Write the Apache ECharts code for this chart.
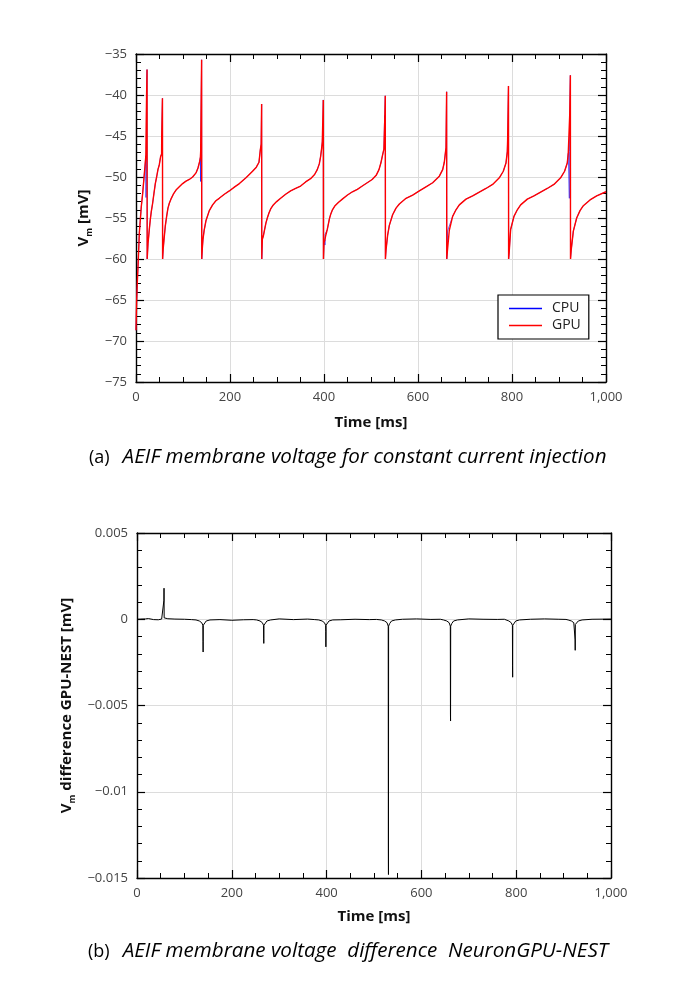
<!DOCTYPE html>
<html>
<head>
<meta charset="utf-8">
<script src="https://cdn.jsdelivr.net/npm/echarts@6/dist/echarts.min.js"></script>
<style>
html, body { margin: 0; padding: 0; background: #fff; }
#main { width: 700px; height: 1000px; }
</style>
</head>
<body>
<div id="main"></div>
<script>
// (a) membrane voltage, GPU trace
var gpuTime = [
    0, 1.4, 2.8, 4.3, 5.7, 7.1, 9.2, 11.3, 14.2, 17, 19.1, 21, 22.5, 23.5, 23.8,
    25.3, 25.6, 28.3, 30.4, 32.6, 35.4, 38.2, 41.1, 43.9, 46.7, 49.6, 52.4, 54.5, 54.7, 56.3, 56.6,
    57.6, 57.8, 59.5, 62.3, 65.2, 68, 70.9, 75.1, 79.4, 85.1, 92.1, 99.2, 106.4, 113.4, 120.5, 127.7, 131.9, 135.5, 137.0, 137.6, 138.5, 139.6, 139.9,
    140.8, 141.1, 142.5, 145, 149, 156, 163, 170, 177, 188, 198.5, 210, 220, 234, 248, 256, 261.7, 264.5, 266.3, 267.3, 267.6,
    268.5, 268.8, 270.9, 273.7, 276.5, 279.4, 282.9, 286.5, 292.1, 299.2, 307.7, 318.4, 329, 339.6, 350.3, 360.9, 371.5, 380, 385.7, 390, 392.8, 395, 396.4, 397.6, 398.5, 398.8,
    399.7, 400, 401.8, 403.4, 407, 409.8, 411.5, 414.5, 418, 423.5, 430.5, 439, 450, 460.5, 471, 481.5, 492, 502.5, 511, 517, 521, 524.7, 527.5, 529.2, 530.4, 530.7,
    531.6, 532, 535.4, 539, 546, 553.2, 560.3, 574.5, 588.7, 602.8, 617, 631.2, 645.4, 652.5, 656, 658.2, 659.6, 660.9, 661.2,
    662.0, 662.3, 666.6, 673.7, 680.8, 687.9, 702.1, 716.3, 730.4, 744.6, 758.8, 773, 781.5, 787.2, 790, 790.7, 792.5, 792.8,
    793.6, 794, 797.1, 804.2, 811.3, 818.4, 832.6, 846.7, 860.9, 875, 889.2, 903.4, 911.9, 917.6, 919.7, 921.5, 922.8, 924.2, 924.5,
    925.5, 926, 930.5, 937.6, 944.7, 951.8, 966, 980.2, 1000
];
var gpuVm = [
    -68.7, -65.0, -62.9, -60.9, -58.9, -56.8, -55.2, -53.6, -52.0, -50.1, -48.7, -47.4, -40.0, -36.9, -60,
    -60, -58.1, -56.4, -55.2, -54.2, -53.2, -52.0, -50.8, -50.0, -49.1, -48.5, -47.5, -47.2, -45.0, -40.4, -60,
    -60, -58.8, -57.7, -56.0, -54.8, -53.8, -53.2, -52.6, -52.1, -51.6, -51.2, -50.8, -50.5, -50.3, -50.0, -49.5, -48.9, -48.1, -47.6, -46.9, -41.6, -35.7, -60,
    -60, -58.7, -57.6, -56.5, -55.3, -54.1, -53.4, -52.9, -52.6, -52.1, -51.7, -51.2, -50.8, -50.1, -49.3, -48.8, -48.2, -46.7, -46.0, -41.1, -60,
    -60, -57.6, -57.2, -56.4, -55.6, -55.0, -54.4, -53.9, -53.4, -53.0, -52.6, -52.1, -51.7, -51.4, -51.1, -50.6, -50.2, -49.7, -49.1, -48.4, -47.5, -46.5, -45.7, -45.6, -40.6, -60,
    -60, -58.0, -57.7, -57.2, -56.4, -55.6, -55.1, -54.5, -54.0, -53.5, -53.1, -52.7, -52.2, -51.8, -51.5, -51.1, -50.7, -50.3, -49.8, -49.1, -48.3, -47.3, -46.6, -43.1, -40.1, -60,
    -60, -58.9, -57.1, -55.9, -54.6, -53.8, -53.3, -52.6, -52.2, -51.7, -51.2, -50.7, -49.9, -49.1, -48.2, -47.1, -46.4, -39.6, -60,
    -60, -59.2, -56.5, -54.8, -54.0, -53.4, -52.7, -52.3, -51.85, -51.4, -50.9, -50.1, -49.3, -48.3, -46.9, -45.5, -38.9, -60,
    -60, -59.2, -56.4, -54.8, -54.0, -53.4, -52.7, -52.3, -51.85, -51.4, -50.9, -50.1, -49.3, -48.3, -47.1, -46.9, -42.4, -37.6, -60,
    -60, -58.9, -56.6, -55.0, -54.1, -53.5, -52.8, -52.3, -51.8
];
// CPU samples that show where the blue trace leaves the red one
var cpuExtraTime = [21.2, 54.8, 137.3, 396.8, 402.0, 402.2, 529.0, 662.6, 662.8, 790.8, 922.0, 922.3];
var cpuExtraVm   = [-52.5, -44.3, -50.55, -45.2, -58.3, -57.0, -42.5, -58.6, -56.6, -45.2, -52.6, -46.9];

// (b) GPU - NEST difference [mV]
var diffTime = [
    0, 8, 18, 24, 26, 28, 35, 45, 52, 55.5, 56.8, 57.0, 57.3, 60, 65, 80, 100, 115,
    124.5, 131.5, 136.5, 139.0, 139.3, 139.5, 139.8, 142, 146, 154, 175, 200, 225, 245,
    252.5, 259.5, 264.5, 267.0, 267.3, 267.5, 267.8, 270, 274, 282, 300, 330, 360, 375,
    383.5, 390.5, 395.5, 398.0, 398.3, 398.5, 398.8, 401, 405, 413, 430, 460, 490, 505,
    515.5, 522.5, 527.5, 530.0, 530.3, 530.5, 530.8, 533, 537, 545, 560, 590, 620, 640,
    646.5, 653.5, 658.5, 661.0, 661.3, 661.5, 661.8, 664, 668, 676, 700, 730, 760, 775,
    777.5, 784.5, 789.5, 792.0, 792.3, 792.5, 792.8, 795, 799, 807, 830, 860, 890, 905,
    909.5, 916.5, 921.5, 924.0, 924.3, 924.5, 924.8, 927, 931, 939, 960, 1000
];
var diffValue = [
    0, 0.00001, 0.00002, 0.00004, 0.00012, 0.00002, -0.00002, -0.00003, 0.00001, 0.00005, 0.0011, 0.0018, 0.00008, 0.00006, 0.00003, 0.00001, 0, -0.00002,
    -0.00004, -0.0001, -0.0002, -0.00035, -0.0013, -0.0019, -0.00035, -0.00025, -0.0001, -0.00004, -0.00002, -0.00006, -0.00003, -0.00002,
    -0.00004, -0.0001, -0.0002, -0.00035, -0.0011, -0.0014, -0.00035, -0.00025, -0.0001, -0.00004, 0.00002, -0.00002, 0.00001, -0.00002,
    -0.00004, -0.0001, -0.0002, -0.00035, -0.0007, -0.0016, -0.00035, -0.00025, -0.0001, -0.00004, -0.00003, 0, -0.00002, -0.00001,
    -0.00004, -0.0001, -0.0002, -0.0004, -0.0133, -0.0148, -0.0004, -0.00025, -0.0001, -0.00004, 0, 0.00002, -0.00001, 0,
    -0.00004, -0.0001, -0.0002, -0.0004, -0.0055, -0.0059, -0.0004, -0.00025, -0.0001, -0.00004, 0.00002, 0, -0.00001, 0,
    -0.00004, -0.0001, -0.0002, -0.00035, -0.0027, -0.00336, -0.00035, -0.00025, -0.0001, -0.00004, 0, 0.00002, 0, -0.00001,
    -0.00004, -0.0001, -0.0002, -0.0003, -0.0012, -0.0018, -0.0003, -0.00025, -0.0001, -0.00004, 0, 0.00001
];

var FONT = '"Open Sans", "DejaVu Sans", sans-serif';

function pairs(t, v) {
    return t.map(function (x, i) { return [x, v[i]]; });
}
var gpuData = pairs(gpuTime, gpuVm);
var cpuData = gpuData.concat(pairs(cpuExtraTime, cpuExtraVm)).sort(function (a, b) { return a[0] - b[0]; });
var diffData = pairs(diffTime, diffValue);

function minus(v) {
    return String(Math.round(v * 1e6) / 1e6).replace('-', '\u2212');
}

function axis(grid, pos, min, max, step, minor, labels) {
    return {
        type: 'value',
        gridIndex: grid,
        position: pos,
        min: min,
        max: max,
        interval: step,
        axisLine: { show: true, onZero: false, lineStyle: { color: '#000', width: 1.4 } },
        axisTick: { show: true, inside: true, length: 8, lineStyle: { color: '#000', width: 1.2 } },
        minorTick: { show: true, splitNumber: minor, length: 5, lineStyle: { color: '#000', width: 1 } },
        splitLine: { show: labels, lineStyle: { color: '#dcdcdc', width: 1 } },
        minorSplitLine: { show: false },
        axisLabel: { show: labels, color: '#444', fontSize: 13, fontFamily: FONT, margin: 9 }
    };
}

var nameStyle = { fontFamily: FONT, fontSize: 15, fontWeight: 'bold', color: '#111' };
var richName = {
    b: { fontFamily: FONT, fontSize: 15, fontWeight: 'bold', color: '#111', lineHeight: 20 },
    s: { fontFamily: FONT, fontSize: 9, fontWeight: 'bold', color: '#111', lineHeight: 12, verticalAlign: 'bottom' }
};

var xA = axis(0, 'bottom', 0, 1000, 200, 4, true);
xA.axisLabel.formatter = function (v) { return v.toLocaleString('en-US'); };
xA.name = 'Time [ms]';
xA.nameLocation = 'middle';
xA.nameGap = 33;
xA.nameTextStyle = nameStyle;
var xT = axis(0, 'top', 0, 1000, 200, 4, false);
var yA = axis(0, 'left', -75, -35, 5, 5, true);
yA.axisLabel.formatter = minus;
yA.name = '{b|V}{s|m}{b| [mV]}';
yA.nameLocation = 'middle';
yA.nameGap = 34;
yA.nameTextStyle = { rich: richName };
var yR = axis(0, 'right', -75, -35, 5, 5, false);

var xB = axis(1, 'bottom', 0, 1000, 200, 4, true);
xB.axisLabel.formatter = function (v) { return v.toLocaleString('en-US'); };
xB.name = 'Time [ms]';
xB.nameLocation = 'middle';
xB.nameGap = 31;
xB.nameTextStyle = nameStyle;
var xBT = axis(1, 'top', 0, 1000, 200, 4, false);
var yB = axis(1, 'left', -0.015, 0.005, 0.005, 5, true);
yB.axisLabel.formatter = minus;
yB.name = '{b|V}{s|m}{b| difference GPU-NEST [mV]}';
yB.nameLocation = 'middle';
yB.nameGap = 56;
yB.nameTextStyle = { rich: richName };
var yBR = axis(1, 'right', -0.015, 0.005, 0.005, 5, false);

var capRich = {
    n: { fontFamily: FONT, fontSize: 18, fontWeight: 'normal', color: '#000' },
    i: { fontFamily: FONT, fontSize: 20.6, fontWeight: 'normal', fontStyle: 'italic', color: '#000', padding: [0, 0, 0, 8] }
};

var myChart = echarts.init(document.getElementById('main'), null, { renderer: 'canvas' });
var option = {
    animation: false,
    backgroundColor: '#fff',
    title: [
        { text: '{n|(a)} {i|AEIF membrane voltage for constant current injection}', left: 89, top: 447, padding: 0,
          textStyle: { fontWeight: 'normal', rich: capRich } },
        { text: '{n|(b)} {i|AEIF membrane voltage  difference  NeuronGPU-NEST}', left: 88, top: 941, padding: 0,
          textStyle: { fontWeight: 'normal', rich: capRich } }
    ],
    legend: {
        data: [
            { name: 'CPU', itemStyle: { color: '#0000ff' } },
            { name: 'GPU', itemStyle: { color: '#ff0000' } }
        ],
        orient: 'vertical',
        left: 498,
        top: 295,
        padding: [5, 8, 5, 11],
        itemGap: 0,
        itemWidth: 33,
        itemHeight: 1.6,
        icon: 'rect',
        borderColor: '#000',
        borderWidth: 1.2,
        borderRadius: 0,
        backgroundColor: '#fff',
        textStyle: { fontFamily: FONT, fontSize: 14, color: '#222', lineHeight: 17, padding: [0, 0, 0, 5] }
    },
    grid: [
        { left: 136, top: 54, width: 470, height: 328, outerBoundsMode: 'none' },
        { left: 137, top: 533, width: 474, height: 345, outerBoundsMode: 'none' }
    ],
    xAxis: [xA, xT, xB, xBT],
    yAxis: [yA, yR, yB, yBR],
    series: [
        { name: 'CPU', type: 'line', xAxisIndex: 0, yAxisIndex: 0, data: cpuData, symbol: 'none', showSymbol: false,
          lineStyle: { color: '#0000ff', width: 0.6 }, itemStyle: { color: '#0000ff' }, z: 2 },
        { name: 'GPU', type: 'line', xAxisIndex: 0, yAxisIndex: 0, data: gpuData, symbol: 'none', showSymbol: false,
          lineStyle: { color: '#ff0000', width: 1.4 }, itemStyle: { color: '#ff0000' }, z: 3 },
        { name: 'diff', type: 'line', xAxisIndex: 2, yAxisIndex: 2, data: diffData, symbol: 'none', showSymbol: false,
          lineStyle: { color: '#000', width: 1 }, itemStyle: { color: '#000' }, z: 3 }
    ]
};
myChart.setOption(option);
</script>
</body>
</html>
